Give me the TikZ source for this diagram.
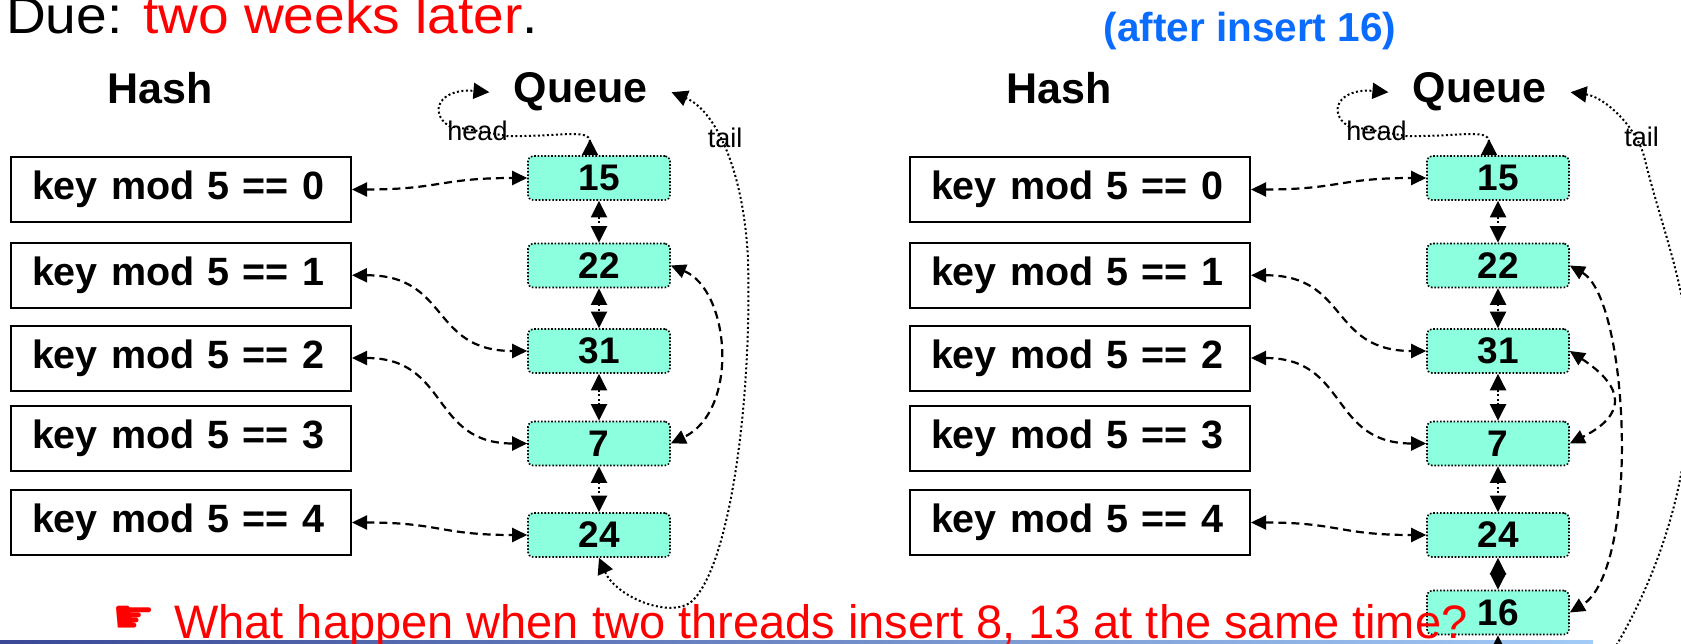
\documentclass[tikz,border=0pt]{standalone}
\usepackage{fontspec}
\setmainfont{Liberation Sans}
\newfontfamily\symbolfont{DejaVu Sans}
\newfontfamily\widesans[FakeStretch=1.06]{Liberation Sans}
\usetikzlibrary{arrows.meta}

\definecolor{slidered}{RGB}{255,0,0}
\definecolor{slideblue}{RGB}{10,108,255}
\definecolor{qfill}{RGB}{140,255,222}
\definecolor{barleft}{RGB}{58,72,150}
\definecolor{barright}{RGB}{163,203,247}

\tikzset{
  headline/.style={anchor=base, inner sep=0pt, font=\fontsize{43}{48}\selectfont\bfseries},
  hashbox/.style={draw, line width=2pt, minimum height=65pt, inner xsep=21pt, inner ysep=0pt,
    text width=298pt, align=left, font=\fontsize{39.5}{44}\selectfont\bfseries},
  qbox/.style={draw, fill=qfill, rounded corners=5pt, line width=1.6pt, dash pattern=on 1.6pt off 1.8pt,
    minimum width=142pt, minimum height=44pt, inner sep=0pt, font=\fontsize{37}{40}\selectfont\bfseries},
  ptrtext/.style={anchor=base, inner sep=0pt, font=\fontsize{27}{30}\selectfont},
  qlink/.style={line width=2pt, dash pattern=on 2pt off 2.5pt,
    {Triangle[length=16.5pt,width=16pt]}-{Triangle[length=16.5pt,width=16pt]}},
  hlink/.style={line width=2.2pt, dash pattern=on 8pt off 5pt,
    {Triangle[length=15pt,width=14pt]}-{Triangle[length=15pt,width=14pt]}},
  ptr/.style={line width=2pt, dash pattern=on 2pt off 2.5pt},
}

% one hash table + queue block; #1 is the suffix of every name in it
\newcommand\hashqueuepanel[1]{%
  \node[headline] (hash#1) at (160.5,104) {Hash};
  \node[headline, inner xsep=24pt] (queue#1) at (580.5,103) {Queue};
  \node[hashbox] (h0#1) at (181,189.5) {key mod 5 == 0};
  \node[hashbox] (h1#1) at (181,275.3) {key mod 5 == 1};
  \node[hashbox] (h2#1) at (181,358) {key mod 5 == 2};
  \node[hashbox] (h3#1) at (181,438) {key mod 5 == 3};
  \node[hashbox] (h4#1) at (181,522.5) {key mod 5 == 4};
  \node[qbox] (q15#1) at (599,178) {15};
  \node[qbox] (q22#1) at (599,265.5) {22};
  \node[qbox] (q31#1) at (599,351) {31};
  \node[qbox] (q7#1) at (599,443.5) {7};
  \node[qbox] (q24#1) at (599,535) {24};
  % queue order
  \draw[qlink] (q15#1.south) -- (q22#1.north);
  \draw[qlink] (q22#1.south) -- (q31#1.north);
  \draw[qlink] (q31#1.south) -- (q7#1.north);
  \draw[qlink] (q7#1.south) -- (q24#1.north);
  % hash buckets
  \draw[hlink] (h0#1.east) .. controls (440,189.5) and (440,178) .. (q15#1.west);
  \draw[hlink] (h1#1.east) .. controls (450,275) and (430,351) .. (q31#1.west);
  \draw[hlink] (h2#1.east) .. controls (450,358) and (430,443.5) .. (q7#1.west);
  \draw[hlink] (h4#1.east) .. controls (440,522.5) and (440,535) .. (q24#1.west);
  % head pointer
  \node[ptrtext] (head#1) at (477.5,141) {head};
  \draw[ptr, {Triangle[reversed,length=16pt,width=16pt]}-{Triangle[length=16pt,width=16pt]}]
    ([xshift=-9pt]q15#1.north) .. controls (590,128) and (560,137) .. (507,136)
    -- (449,126) .. controls (428,112) and (440,88) .. (queue#1.west);
}

\begin{document}
\begin{tikzpicture}[x=1pt,y=-1pt]
\useasboundingbox (0,0) rectangle (1681,644);
\clip (0,0) rectangle (1681,644);

% footer bar
\shade[left color=barleft, right color=barright] (0,640.5) rectangle (1593,644);

% left: before the insert
\hashqueuepanel{L}
\draw[hlink] (q22L.east) .. controls (730,290) and (740,410) .. (q7L.east);
\node[ptrtext] (tailL) at (725,148) {tail};
\draw[ptr, {Triangle[length=16pt,width=16pt]}-{Triangle[length=16pt,width=16pt]}]
  (q24L.south) .. controls (615,595) and (665,618) .. (690,603)
  .. controls (730,570) and (752,400) .. (748,260)
  .. controls (744,170) and (715,110) .. (queueL.east);

% right: after insert 16
\begin{scope}[xshift=899pt]
\hashqueuepanel{R}
\end{scope}
\node[qbox] (q16R) at (1498,612.5) {16};
\coordinate (qnextR) at (1498,672);
\draw[qlink] (q24R.south) -- (q16R.north);
\draw[qlink] (q16R.south) -- (qnextR);
\draw[hlink] (q22R.east) .. controls (1630,300) and (1640,570) .. (q16R.east);
\draw[hlink] (q31R.east) .. controls (1626,388) and (1626,415) .. (q7R.east);
\node[ptrtext] (tailR) at (1641.5,147) {tail};
\coordinate (tailendR) at (1600,672);
\draw[ptr, -{Triangle[length=16pt,width=16pt]}]
  (tailendR) .. controls (1660,580) and (1690,480) .. (1690,380)
  .. controls (1692,300) and (1662,230) .. (1645,160)
  .. controls (1638,128) and (1605,97) .. (queueR.east);

% titles
\node[anchor=base west, inner sep=0pt, font=\widesans\fontsize{52}{56}\selectfont] (due) at (6,34)
  {Due: \textcolor{slidered}{two weeks later}.};
\node[anchor=base, inner sep=0pt, text=slideblue, font=\fontsize{40.5}{44}\selectfont\bfseries] (after) at (1250,42)
  {(after insert 16)};

% question line
\node[inner sep=0pt, text=slidered, font=\symbolfont\fontsize{48}{52}\selectfont] (hand) at (134,620) {☛};
\node[anchor=base west, inner sep=0pt, text=slidered, font=\fontsize{47}{50}\selectfont] (question) at (174,638)
  {What happen when two threads insert 8, 13 at the same time?};
\end{tikzpicture}
\end{document}
